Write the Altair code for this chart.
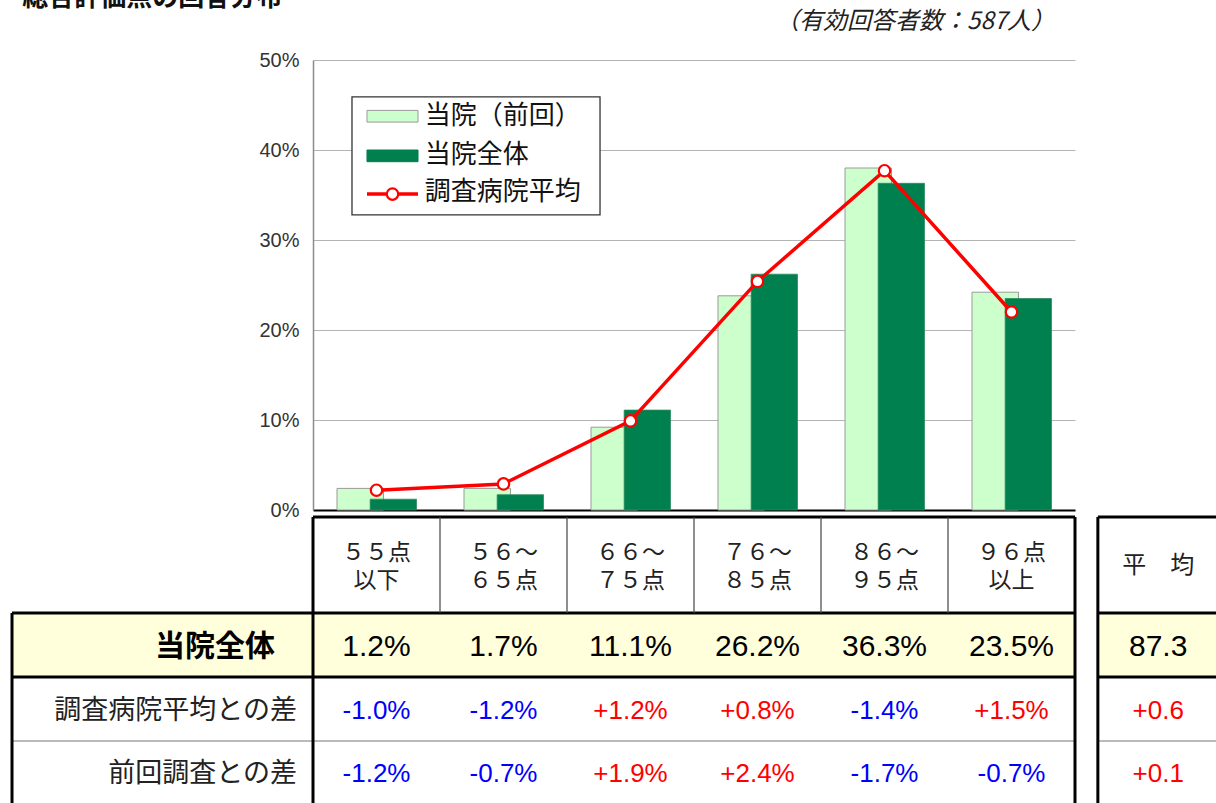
import altair as alt
import pandas as pd

# ---------------- data ----------------
categories = ["５５点\n以下", "５６～\n６５点", "６６～\n７５点", "７６～\n８５点", "８６～\n９５点", "９６点\n以上"]
series_names = ["当院（前回）", "当院全体", "調査病院平均"]
prev_vals = [2.4, 2.4, 9.2, 23.8, 38.0, 24.2]      # 当院（前回）
curr_vals = [1.2, 1.7, 11.1, 26.2, 36.3, 23.5]     # 当院全体
avg_vals = [2.2, 2.9, 9.9, 25.4, 37.7, 22.0]       # 調査病院平均
curr_text = ["1.2%", "1.7%", "11.1%", "26.2%", "36.3%", "23.5%"]
diff_avg_text = ["-1.0%", "-1.2%", "+1.2%", "+0.8%", "-1.4%", "+1.5%"]
diff_prev_text = ["-1.2%", "-0.7%", "+1.9%", "+2.4%", "-1.7%", "-0.7%"]
row_labels = ["当院全体", "調査病院平均との差", "前回調査との差"]
mean_header = "平　均"
mean_text = ["87.3", "+0.6", "+0.1"]
title_text = "総合評価点の回答分布"
note_text = "（有効回答者数：587人）"
y_ticks = [0, 10, 20, 30, 40, 50]

# ---------------- styles ----------------
JP = "Noto Sans CJK JP"
NUM = "Liberation Sans"
LIGHT = "#CCFFCC"
DARK = "#00804F"
RED = "#FF0000"
BLUE = "#0000FF"
YELLOW = "#FFFFDC"

n = len(categories)
xs = alt.Scale(domain=[0, n], nice=False, zero=False)
ys = alt.Scale(domain=[0, 50], nice=False, zero=False)
# table scale: one row unit = 64 px, table top just under the chart
T0 = -(517 - 60) / 64
ts = alt.Scale(domain=[T0, T0 + 450 / 64], reverse=True, nice=False, zero=False)

def sign_color(s):
    return BLUE if s.startswith("-") else RED

# ---------------- chart ----------------
light_df = pd.DataFrame({"x0": [i + 0.189 for i in range(n)], "x1": [i + 0.555 for i in range(n)],
                         "v": prev_vals, "b": [0] * n})
dark_df = pd.DataFrame({"x0": [i + 0.45 for i in range(n)], "x1": [i + 0.815 for i in range(n)],
                        "v": curr_vals, "b": [0] * n})
avg_df = pd.DataFrame({"x": [i + 0.5 for i in range(n)], "v": avg_vals})

light = alt.Chart(light_df).mark_rect(fill=LIGHT, stroke="#9A9A9A", strokeWidth=1).encode(
    x=alt.X("x0:Q", scale=xs, axis=alt.Axis(labels=False, ticks=False, grid=False, title="",
                                             domainColor="#000000", domainWidth=2)),
    x2="x1:Q",
    y=alt.Y("v:Q", scale=ys, axis=alt.Axis(values=y_ticks, labelExpr="datum.value + '%'", title="",
                                            ticks=False, grid=True, gridColor="#B4B4B4", gridWidth=1,
                                            domainColor="#8C8C8C", domainWidth=1.5, labelPadding=14,
                                            labelFont=NUM, labelFontSize=20, labelColor="#333333")),
    y2="b:Q",
)
dark = alt.Chart(dark_df).mark_rect(fill=DARK, stroke="#2E8B60", strokeWidth=0.8).encode(
    x=alt.X("x0:Q", scale=xs), x2="x1:Q",
    y=alt.Y("v:Q", scale=ys, axis=None), y2="b:Q",
)
line = alt.Chart(avg_df).mark_line(color=RED, strokeWidth=3.5).encode(
    x=alt.X("x:Q", scale=xs), y=alt.Y("v:Q", scale=ys, axis=None)
)
pts = alt.Chart(avg_df).mark_point(shape="circle", filled=True, fill="white", stroke=RED,
                                   strokeWidth=2.2, size=130, opacity=1).encode(
    x=alt.X("x:Q", scale=xs), y=alt.Y("v:Q", scale=ys, axis=None)
)

# ---------------- legend (drawn by hand) ----------------
lg_box = pd.DataFrame({"x0": [0.307], "x1": [2.26], "y0": [32.8], "y1": [45.9]})
legend_box = alt.Chart(lg_box).mark_rect(fill="white", stroke="#333333", strokeWidth=1.3).encode(
    x=alt.X("x0:Q", scale=xs), x2="x1:Q", y=alt.Y("y0:Q", scale=ys, axis=None), y2="y1:Q")
sw_df = pd.DataFrame({"x0": [0.425, 0.425], "x1": [0.827, 0.827], "y0": [43.1, 38.7], "y1": [44.4, 40.0],
                      "c": [LIGHT, DARK], "s": ["#9A9A9A", DARK]})
legend_sw = alt.Chart(sw_df).mark_rect(strokeWidth=1).encode(
    x=alt.X("x0:Q", scale=xs), x2="x1:Q", y=alt.Y("y0:Q", scale=ys, axis=None), y2="y1:Q",
    fill=alt.Fill("c:N", scale=None), stroke=alt.Stroke("s:N", scale=None))
lg_line_df = pd.DataFrame({"x0": [0.425], "x1": [0.827], "y": [35.1]})
legend_line = alt.Chart(lg_line_df).mark_rule(color=RED, strokeWidth=3.5).encode(
    x=alt.X("x0:Q", scale=xs), x2="x1:Q", y=alt.Y("y:Q", scale=ys, axis=None))
lg_pt_df = pd.DataFrame({"x": [0.626], "y": [35.1]})
legend_pt = alt.Chart(lg_pt_df).mark_point(shape="circle", filled=True, fill="white", stroke=RED,
                                           strokeWidth=2.2, size=130, opacity=1).encode(
    x=alt.X("x:Q", scale=xs), y=alt.Y("y:Q", scale=ys, axis=None))
lg_txt_df = pd.DataFrame({"x": [0.88] * 3, "y": [43.8, 39.5, 35.3], "t": series_names})
legend_txt = alt.Chart(lg_txt_df).mark_text(align="left", baseline="middle", font=JP, fontSize=26,
                                            color="#111111").encode(
    x=alt.X("x:Q", scale=xs), y=alt.Y("y:Q", scale=ys, axis=None), text="t:N")

# ---------------- titles ----------------
title_df = pd.DataFrame({"x": [-2.29], "y": [56.0], "t": [title_text]})
title = alt.Chart(title_df).mark_text(align="left", baseline="alphabetic", font=JP, fontSize=26,
                                      fontWeight="bold", color="#111111").encode(
    x=alt.X("x:Q", scale=xs), y=alt.Y("y:Q", scale=ys, axis=None), text="t:N")
note_df = pd.DataFrame({"x": [5.843], "y": [54.2], "t": [note_text]})
note = alt.Chart(note_df).mark_text(align="right", baseline="middle", font=JP, fontSize=24,
                                    fontStyle="italic", color="#222222").encode(
    x=alt.X("x:Q", scale=xs), y=alt.Y("y:Q", scale=ys, axis=None), text="t:N")

# ---------------- table ----------------
LEFT = -2.37
MEAN0, MEAN1 = 6.18, 7.13
MEANX = (MEAN0 + MEAN1) / 2
bg_df = pd.DataFrame({"x0": [LEFT, MEAN0], "x1": [n, MEAN1], "y0": [1.5, 1.5], "y1": [2.5, 2.5]})
table_bg = alt.Chart(bg_df).mark_rect(fill=YELLOW).encode(
    x=alt.X("x0:Q", scale=xs), x2="x1:Q", y=alt.Y("y0:Q", scale=ts, axis=None), y2="y1:Q")

segs = []
THICK, THIN = 3, 1.2
# horizontal lines
segs.append((0, n, 0, 0, THICK, "#000000"))
segs.append((MEAN0, MEAN1, 0, 0, THICK, "#000000"))
for yy in (1.5, 2.5):
    segs.append((LEFT, n, yy, yy, THICK, "#000000"))
    segs.append((MEAN0, MEAN1, yy, yy, THICK, "#000000"))
segs.append((LEFT, n, 3.5, 3.5, THIN, "#777777"))
segs.append((MEAN0, MEAN1, 3.5, 3.5, THIN, "#777777"))
# vertical lines
segs.append((LEFT, LEFT, 1.5, 4.6, THICK, "#000000"))
segs.append((0, 0, 0, 4.6, THICK, "#000000"))
segs.append((n, n, 0, 4.6, THICK, "#000000"))
segs.append((MEAN0, MEAN0, 0, 4.6, THICK, "#000000"))
for i in range(1, n):
    segs.append((i, i, 0, 1.5, THIN, "#444444"))
seg_df = pd.DataFrame(segs, columns=["x0", "x1", "y0", "y1", "w", "c"])
table_lines = alt.Chart(seg_df).mark_rule().encode(
    x=alt.X("x0:Q", scale=xs), x2="x1:Q", y=alt.Y("y0:Q", scale=ts, axis=None), y2="y1:Q",
    strokeWidth=alt.StrokeWidth("w:Q", scale=None), color=alt.Color("c:N", scale=None))

hdr_df = pd.DataFrame({"x": [i + 0.5 for i in range(n)], "y": [0.56] * n, "t": categories})
hdr = alt.Chart(hdr_df).mark_text(align="center", baseline="middle", font=JP, fontSize=23,
                                  lineBreak="\n", lineHeight=28, color="#222222").encode(
    x=alt.X("x:Q", scale=xs), y=alt.Y("y:Q", scale=ts, axis=None), text="t:N")
mh_df = pd.DataFrame({"x": [MEANX], "y": [0.77], "t": [mean_header]})
mh = alt.Chart(mh_df).mark_text(align="center", baseline="middle", font=JP, fontSize=24,
                                color="#222222").encode(
    x=alt.X("x:Q", scale=xs), y=alt.Y("y:Q", scale=ts, axis=None), text="t:N")

r1_df = pd.DataFrame({"x": [i + 0.5 for i in range(n)] + [MEANX],
                      "y": [2.03] * (n + 1), "t": curr_text + [mean_text[0]]})
r1 = alt.Chart(r1_df).mark_text(align="center", baseline="middle", font=NUM, fontSize=30,
                                color="#000000").encode(
    x=alt.X("x:Q", scale=xs), y=alt.Y("y:Q", scale=ts, axis=None), text="t:N")

diff_rows = []
for i in range(n):
    diff_rows.append((i + 0.5, 3.03, diff_avg_text[i], sign_color(diff_avg_text[i])))
    diff_rows.append((i + 0.5, 4.02, diff_prev_text[i], sign_color(diff_prev_text[i])))
diff_rows.append((MEANX, 3.03, mean_text[1], sign_color(mean_text[1])))
diff_rows.append((MEANX, 4.02, mean_text[2], sign_color(mean_text[2])))
d_df = pd.DataFrame(diff_rows, columns=["x", "y", "t", "c"])
rd = alt.Chart(d_df).mark_text(align="center", baseline="middle", font=NUM, fontSize=26).encode(
    x=alt.X("x:Q", scale=xs), y=alt.Y("y:Q", scale=ts, axis=None), text="t:N",
    color=alt.Color("c:N", scale=None))

lab1_df = pd.DataFrame({"x": [-0.30], "y": [2.03], "t": [row_labels[0]]})
lab1 = alt.Chart(lab1_df).mark_text(align="right", baseline="middle", font=JP, fontSize=30,
                                    fontWeight="bold", color="#000000").encode(
    x=alt.X("x:Q", scale=xs), y=alt.Y("y:Q", scale=ts, axis=None), text="t:N")
lab2_df = pd.DataFrame({"x": [-0.126, -0.126], "y": [3.03, 4.02], "t": row_labels[1:]})
lab2 = alt.Chart(lab2_df).mark_text(align="right", baseline="middle", font=JP, fontSize=27,
                                    color="#222222").encode(
    x=alt.X("x:Q", scale=xs), y=alt.Y("y:Q", scale=ts, axis=None), text="t:N")

chart = alt.layer(
    table_bg, table_lines, hdr, mh, r1, rd, lab1, lab2,
    light, dark, line, pts,
    legend_box, legend_sw, legend_line, legend_pt, legend_txt,
    title, note,
).resolve_scale(y="independent").properties(
    width=762, height=450,
    autosize=alt.AutoSizeParams(type="none"),
    padding={"left": 313, "top": 60, "right": 141, "bottom": 293},
    background="white",
).configure_view(strokeWidth=0)

chart.save("out.html", embed_options={"renderer": "svg", "actions": False})
